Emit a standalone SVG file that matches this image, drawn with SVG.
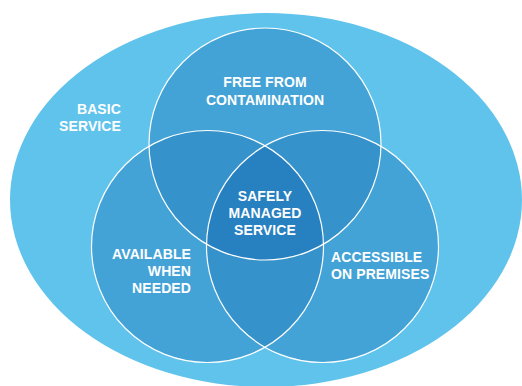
<svg xmlns="http://www.w3.org/2000/svg" width="522" height="386" viewBox="0 0 522 386">
<style>
.lbl{font-family:"Liberation Sans",Arial,sans-serif;font-weight:bold;font-size:14px;letter-spacing:0.1px;fill:#ffffff}
.ring{fill:none;stroke:#ffffff;stroke-width:1.2}
</style>
<defs>
<clipPath id="cT"><circle cx="265" cy="144" r="116"/></clipPath>
<clipPath id="cL"><circle cx="207.5" cy="246.5" r="116"/></clipPath>
<clipPath id="cR"><circle cx="322.5" cy="246.5" r="116"/></clipPath>
</defs>
<rect width="522" height="386" fill="#ffffff"/>
<g id="basic">
<ellipse cx="266" cy="200" rx="256" ry="187" fill="#5fc3ec"/>
<text class="lbl" text-anchor="end"><tspan x="121" y="113.5">BASIC</tspan><tspan x="121" y="130.5">SERVICE</tspan></text>
</g>
<g id="free">
<circle cx="265" cy="144" r="116" fill="#44a3d6"/>
</g>
<g id="available">
<circle cx="207.5" cy="246.5" r="116" fill="#44a3d6"/>
</g>
<g id="accessible">
<circle cx="322.5" cy="246.5" r="116" fill="#44a3d6"/>
</g>
<g id="overlaps">
<circle cx="265" cy="144" r="116" fill="#3592ca" clip-path="url(#cL)"/>
<circle cx="265" cy="144" r="116" fill="#3592ca" clip-path="url(#cR)"/>
<circle cx="207.5" cy="246.5" r="116" fill="#3592ca" clip-path="url(#cR)"/>
<g clip-path="url(#cT)"><circle cx="207.5" cy="246.5" r="116" fill="#2780c0" clip-path="url(#cR)"/></g>
</g>
<g id="rings">
<circle class="ring" cx="265" cy="144" r="116"/>
<circle class="ring" cx="207.5" cy="246.5" r="116"/>
<circle class="ring" cx="322.5" cy="246.5" r="116"/>
</g>
<g id="labels">
<text class="lbl" text-anchor="middle"><tspan x="265" y="87">FREE FROM</tspan><tspan x="265" y="104.5">CONTAMINATION</tspan></text>
<text id="safely" class="lbl" text-anchor="middle"><tspan x="265" y="201">SAFELY</tspan><tspan x="265" y="218">MANAGED</tspan><tspan x="265" y="235">SERVICE</tspan></text>
<text class="lbl" text-anchor="end"><tspan x="191" y="258.5">AVAILABLE</tspan><tspan x="191" y="275.5">WHEN</tspan><tspan x="191" y="293">NEEDED</tspan></text>
<text class="lbl" text-anchor="start"><tspan x="331" y="261.5">ACCESSIBLE</tspan><tspan x="331" y="279">ON PREMISES</tspan></text>
</g>
</svg>
